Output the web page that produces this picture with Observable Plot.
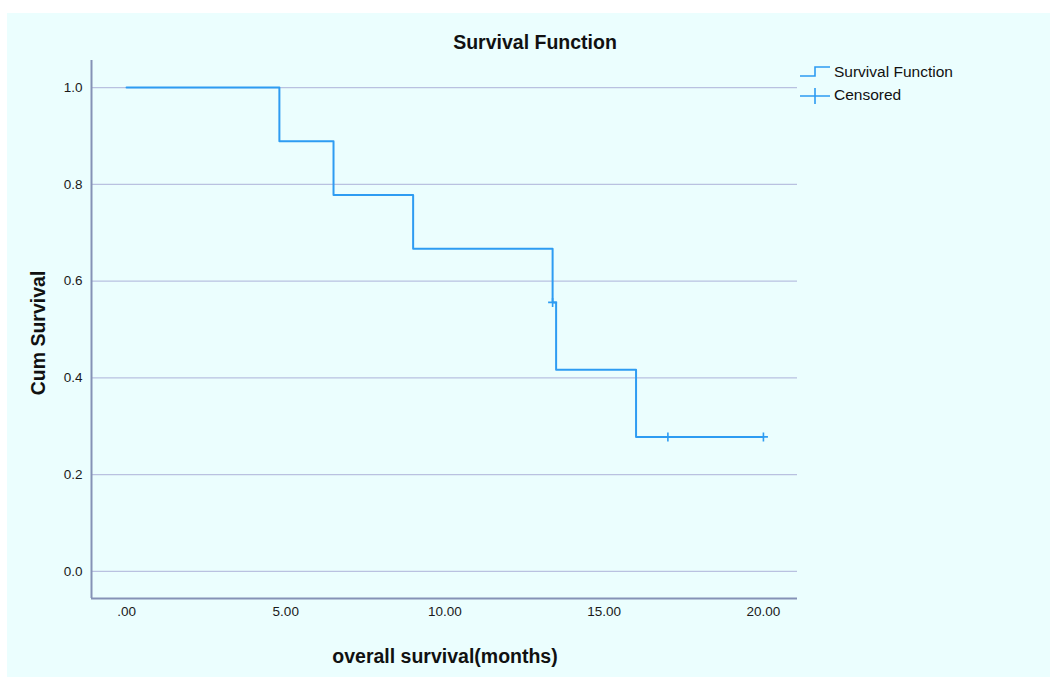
<!DOCTYPE html>
<html>
<head>
<meta charset="utf-8">
<script src="https://cdn.jsdelivr.net/npm/d3@7"></script>
<script src="https://cdn.jsdelivr.net/npm/@observablehq/plot@0.6"></script>
<style>
  html, body { margin: 0; padding: 0; background: #ffffff; }
  #wrap { position: relative; width: 1050px; height: 677px; overflow: hidden; font-family: "Liberation Sans", Arial, sans-serif; }
  #bg { position: absolute; left: 7px; top: 13px; width: 1043px; height: 664px; background: #ebfefe; }
  #chart { position: absolute; left: 0; top: 0; }
  .t { position: absolute; color: #111; white-space: nowrap; }
  #title { left: 0; width: 1070px; top: 31px; text-align: center; font-weight: bold; font-size: 19.5px; }
  #xlabel { left: 0; width: 890px; top: 645px; text-align: center; font-weight: bold; font-size: 19.5px; }
  #ylabel { left: 38px; top: 333px; font-weight: bold; font-size: 19.5px; transform: translate(-50%, -50%) rotate(-90deg); }
  #legend { position: absolute; left: 795px; top: 60px; }
</style>
</head>
<body>
<div id="wrap">
  <div id="bg"></div>
  <div id="chart"></div>
  <div class="t" id="title">Survival Function</div>
  <div class="t" id="xlabel">overall survival(months)</div>
  <div class="t" id="ylabel">Cum Survival</div>
  <svg id="legend" width="200" height="50"></svg>
</div>
<script>
// Kaplan-Meier step data
const times    = [0, 4.8, 6.5, 9.0, 13.38, 13.49, 16.0, 20.0];
const survival = [1.0, 0.889, 0.778, 0.667, 0.556, 0.417, 0.278, 0.278];
// Censored observations
const censTimes = [13.38, 17.0, 20.0];
const censSurv  = [0.556, 0.278, 0.278];
// Ticks
const xTicks = [0, 5, 10, 15, 20];
const yTicks = [0, 0.2, 0.4, 0.6, 0.8, 1.0];
const legendLabels = ["Survival Function", "Censored"];

const lineColor = "#2e9cf2";
const gridColor = "#b9c1e0";
const axisColor = "#8592b6";

const steps = times.map((t, i) => ({t, s: survival[i]}));
const cens = censTimes.map((t, i) => ({t, s: censSurv[i]}));

const plusSymbol = {
  draw(context, size) {
    const r = 4.5;
    context.moveTo(-r, 0); context.lineTo(r, 0);
    context.moveTo(0, -r); context.lineTo(0, r);
  }
};

const xDom = [-1.10, 21.07];
const yDom = [-0.056, 1.056];

const chart = Plot.plot({
  width: 1050,
  height: 677,
  marginLeft: 91,
  marginRight: 253,
  marginTop: 60,
  marginBottom: 79,
  style: { background: "transparent", fontFamily: "'Liberation Sans', Arial, sans-serif", fontSize: "13.5px", color: "#1a1a1a" },
  x: { domain: xDom },
  y: { domain: yDom },
  marks: [
    Plot.ruleY(yTicks, { stroke: gridColor, strokeWidth: 1.4 }),
    Plot.ruleX([xDom[0]], { stroke: axisColor, strokeWidth: 2 }),
    Plot.ruleY([yDom[0]], { stroke: axisColor, strokeWidth: 2 }),
    Plot.axisX(xTicks, { tickSize: 0, tickPadding: 8, tickFormat: d => d === 0 ? ".00" : d.toFixed(2), label: null, fontSize: 13.5 }),
    Plot.axisY(yTicks, { tickSize: 0, tickPadding: 9, tickFormat: d => d.toFixed(1), label: null, fontSize: 13.5 }),
    Plot.line(steps, { x: "t", y: "s", curve: "step-after", stroke: lineColor, strokeWidth: 2 }),
    Plot.dot(cens, { x: "t", y: "s", symbol: plusSymbol, stroke: lineColor, strokeWidth: 1.6, fill: "none", r: 5 })
  ]
});
document.getElementById("chart").appendChild(chart);

// Legend
const lg = d3.select("#legend");
lg.append("path").attr("d", "M5,16 H20 V7 H35").attr("fill", "none").attr("stroke", lineColor).attr("stroke-width", 1.6);
lg.append("path").attr("d", "M5,36 H35 M20,28 V44").attr("fill", "none").attr("stroke", lineColor).attr("stroke-width", 1.6);
lg.selectAll("text").data(legendLabels).join("text")
  .attr("x", 39).attr("y", (d, i) => 17 + i * 23)
  .attr("font-family", "'Liberation Sans', Arial, sans-serif").attr("font-size", 15.5).attr("fill", "#111")
  .text(d => d);
</script>
</body>
</html>
